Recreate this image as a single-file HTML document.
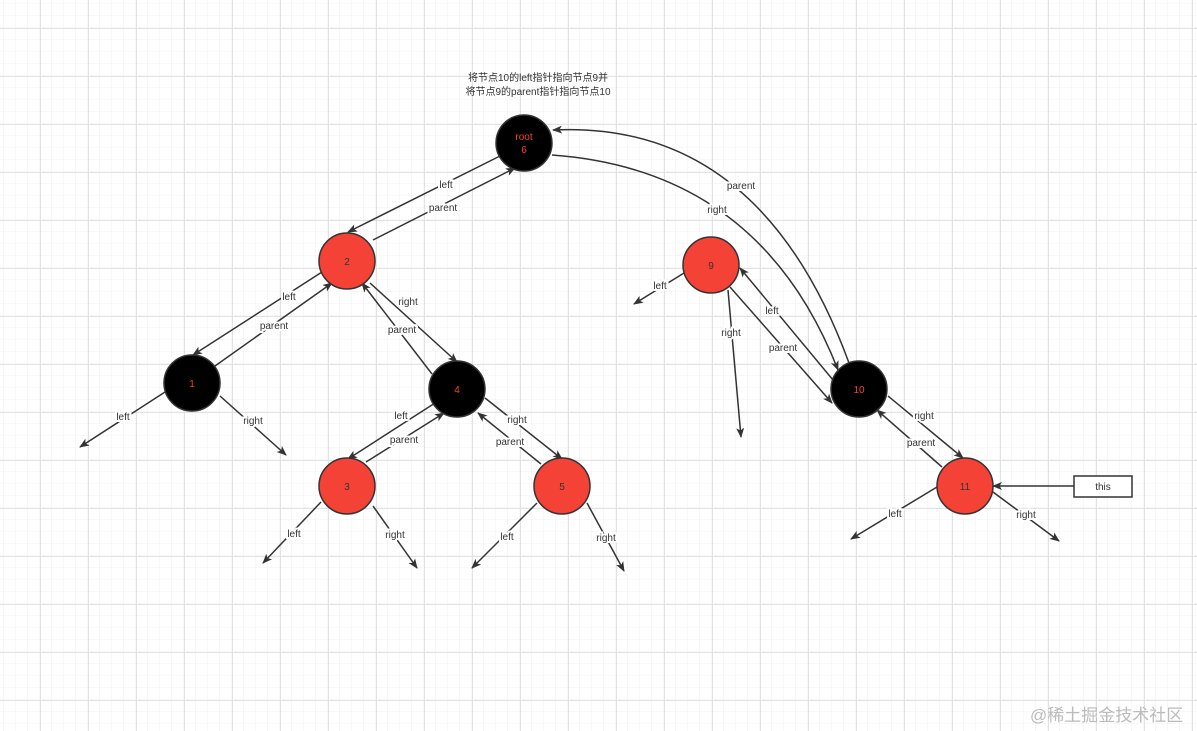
<!DOCTYPE html>
<html><head><meta charset="utf-8"><style>
html,body{margin:0;padding:0;background:#fff}
svg{display:block}
text{font-family:"Liberation Sans","Noto Sans CJK SC",sans-serif;font-size:10px;fill:#333}
.l{paint-order:stroke;stroke:#fff;stroke-width:4px}
</style></head><body>
<svg width="1197" height="731" viewBox="0 0 1197 731" xmlns="http://www.w3.org/2000/svg">
<defs>
<pattern id="mi" width="12" height="12" patternUnits="userSpaceOnUse" x="4" y="4"><path d="M12 0V12M0 12H12" fill="none" stroke="#f1f1f1" stroke-width="1"/></pattern>
<pattern id="ma" width="48" height="48" patternUnits="userSpaceOnUse" x="40" y="28"><path d="M0.5 0V48M0 0.5H48" fill="none" stroke="#e2e2e2" stroke-width="1"/></pattern>
<marker id="a" viewBox="0 0 10 10" refX="9" refY="5" markerWidth="10" markerHeight="10" markerUnits="userSpaceOnUse" orient="auto"><path d="M0 1L10 5L0 9L2.5 5Z" fill="#333"/></marker>
</defs>
<rect width="1197" height="731" fill="url(#mi)"/>
<rect width="1197" height="731" fill="url(#ma)"/>
<g stroke="#333" stroke-width="1.5" fill="none" marker-end="url(#a)">
<line x1="500" y1="156" x2="348" y2="232"/>
<line x1="373" y1="240" x2="515" y2="168"/>
<line x1="322" y1="272" x2="193" y2="355"/>
<line x1="215" y1="366" x2="332" y2="283"/>
<line x1="370" y1="283" x2="457" y2="362"/>
<line x1="432" y1="374" x2="362" y2="283"/>
<line x1="165" y1="392" x2="80" y2="447"/>
<line x1="220" y1="396" x2="286" y2="455"/>
<line x1="435" y1="403" x2="348" y2="459"/>
<line x1="366" y1="462" x2="444" y2="413"/>
<line x1="485" y1="398" x2="562" y2="459"/>
<line x1="541" y1="464" x2="478" y2="413"/>
<line x1="321" y1="502" x2="263" y2="563"/>
<line x1="373" y1="506" x2="417" y2="568"/>
<line x1="537" y1="503" x2="472" y2="568"/>
<line x1="587" y1="503" x2="624" y2="571"/>
<path d="M552 155Q760 170 838 370"/>
<path d="M849 363Q760 120 553 130"/>
<line x1="684" y1="273" x2="634" y2="304"/>
<line x1="728" y1="290" x2="741" y2="437"/>
<line x1="833" y1="380" x2="740" y2="268"/>
<line x1="730" y1="287" x2="832" y2="403"/>
<line x1="888" y1="396" x2="963" y2="458"/>
<line x1="942" y1="467" x2="877" y2="410"/>
<line x1="937" y1="487" x2="851" y2="539"/>
<line x1="993" y1="492" x2="1059" y2="541"/>
<line x1="1074" y1="486" x2="993" y2="486"/>
</g>
<g stroke="#333" stroke-width="1.5">
<circle cx="524" cy="143" r="28" fill="#000"/>
<circle cx="347" cy="261" r="28" fill="#f44336"/>
<circle cx="192" cy="383" r="28" fill="#000"/>
<circle cx="457" cy="389" r="28" fill="#000"/>
<circle cx="347" cy="486" r="28" fill="#f44336"/>
<circle cx="562" cy="486" r="28" fill="#f44336"/>
<circle cx="711" cy="265" r="28" fill="#f44336"/>
<circle cx="859" cy="389" r="28" fill="#000"/>
<circle cx="965" cy="486" r="28" fill="#f44336"/>
<rect x="1074" y="476" width="58" height="21" fill="#fff"/>
</g>
<g text-anchor="middle">
<text x="524" y="140" style="fill:#f44336">root</text>
<text x="524" y="153" style="fill:#f44336">6</text>
<text x="347" y="265">2</text>
<text x="192" y="387" style="fill:#f44336">1</text>
<text x="457" y="393" style="fill:#f44336">4</text>
<text x="347" y="490">3</text>
<text x="562" y="490">5</text>
<text x="711" y="269">9</text>
<text x="859" y="393" style="fill:#f44336">10</text>
<text x="965" y="490">11</text>
<text x="1103" y="490">this</text>
<text x="538" y="81">将节点10的left指针指向节点9并</text>
<text x="538" y="95">将节点9的parent指针指向节点10</text>
</g>
<g text-anchor="middle" class="l">
<text class="l" x="446" y="188">left</text>
<text class="l" x="443" y="211">parent</text>
<text class="l" x="289" y="300">left</text>
<text class="l" x="274" y="329">parent</text>
<text class="l" x="408" y="305">right</text>
<text class="l" x="402" y="333">parent</text>
<text class="l" x="123" y="420">left</text>
<text class="l" x="253" y="424">right</text>
<text class="l" x="401" y="419">left</text>
<text class="l" x="404" y="443">parent</text>
<text class="l" x="517" y="423">right</text>
<text class="l" x="510" y="445">parent</text>
<text class="l" x="294" y="537">left</text>
<text class="l" x="395" y="538">right</text>
<text class="l" x="507" y="540">left</text>
<text class="l" x="606" y="541">right</text>
<text class="l" x="717" y="213">right</text>
<text class="l" x="741" y="189">parent</text>
<text class="l" x="660" y="289">left</text>
<text class="l" x="731" y="336">right</text>
<text class="l" x="772" y="314">left</text>
<text class="l" x="783" y="351">parent</text>
<text class="l" x="924" y="419">right</text>
<text class="l" x="921" y="446">parent</text>
<text class="l" x="895" y="517">left</text>
<text class="l" x="1026" y="518">right</text>
</g>
<text x="1030" y="721" style="font-size:17px;fill:#bbb">@稀土掘金技术社区</text>
</svg>
</body></html>
